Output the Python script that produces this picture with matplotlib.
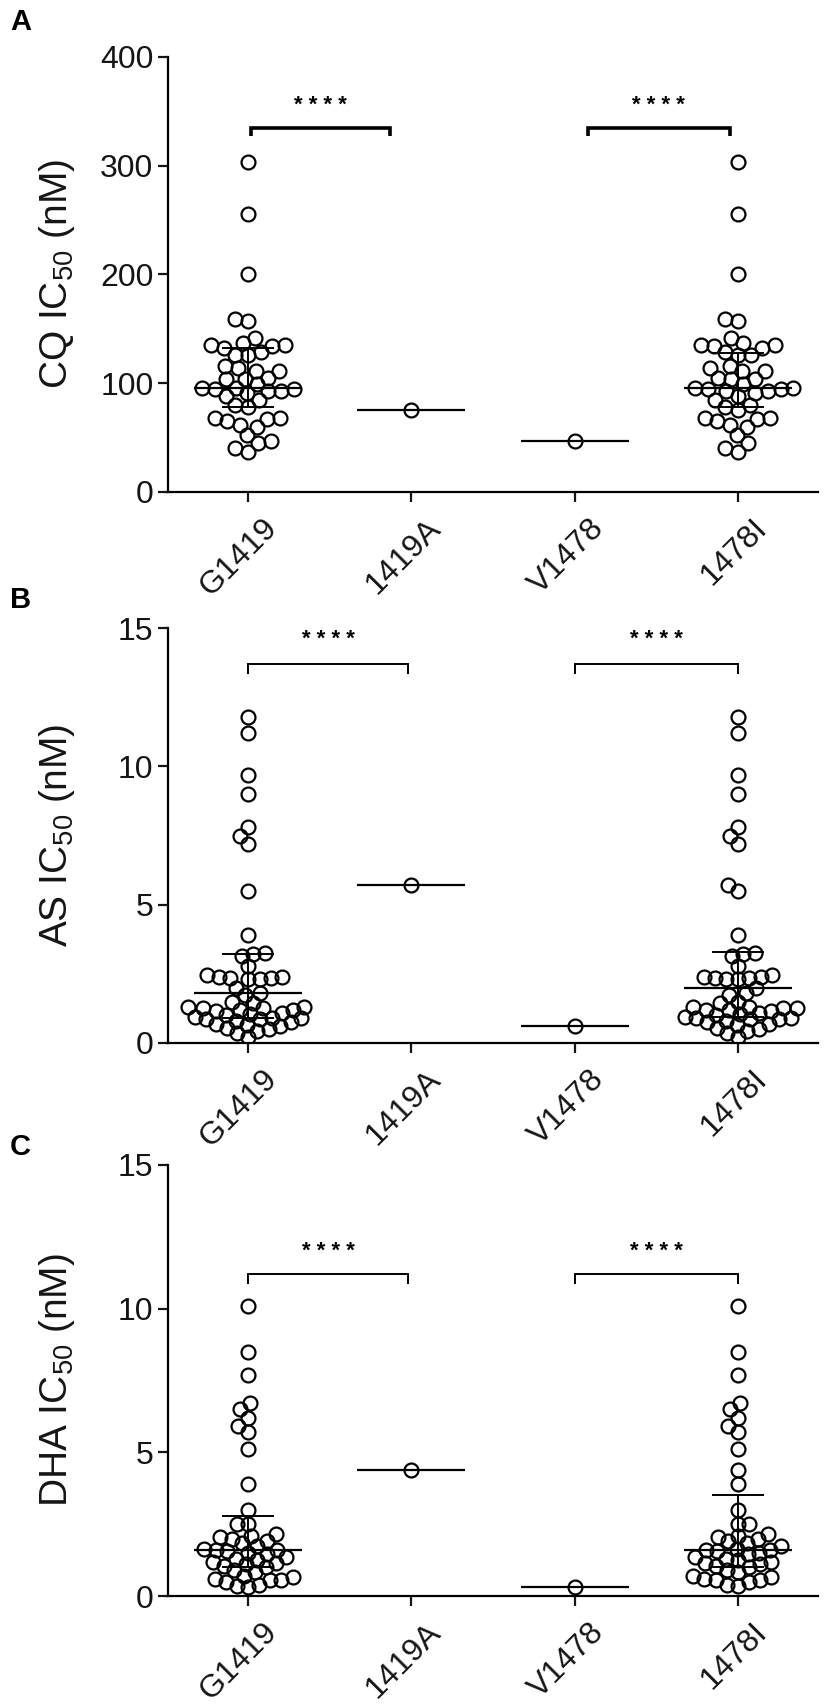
import numpy as np
import matplotlib.pyplot as plt
from matplotlib.transforms import ScaledTranslation

plt.rcParams['font.family'] = ['Liberation Sans', 'DejaVu Sans']

groups = ['G1419', '1419A', 'V1478', '1478I']

# CQ IC50 (nM)
cq_shared = [303, 256, 200, 159, 157, 142, 137, 135, 135, 134, 132, 129, 126, 126,
             116, 114, 111, 111, 105, 104, 104, 99, 96, 96, 95, 95, 93, 93, 91,
             88, 85, 80, 78, 68, 68, 67, 65, 62, 60, 52, 45, 40, 37]
cq_1419a = [75]
cq_v1478 = [47]
cq_median = [96, 75, 47, 96]
cq_q1 = [78, None, None, 78]
cq_q3 = [132, None, None, 128]

# AS IC50 (nM)
as_shared = [11.8, 11.2, 9.7, 9.0, 7.8, 7.5, 7.2, 5.5, 3.9, 3.25, 3.2, 3.15, 2.8,
             2.45, 2.4, 2.35, 2.3, 2.35, 2.4, 2.3, 2.0, 1.8, 1.75, 1.5, 1.45,
             1.3, 1.25, 1.2, 1.3, 1.15, 1.25, 1.2, 1.1, 1.05, 1.0, 0.95,
             0.9, 0.85, 0.9, 0.8, 0.85, 0.75, 0.7, 0.65, 0.55, 0.5, 0.45, 0.35, 0.2]
as_1419a = [5.7]
as_v1478 = [0.6]
as_median = [1.8, 5.7, 0.6, 2.0]
as_q1 = [0.9, None, None, 0.95]
as_q3 = [3.2, None, None, 3.3]

# DHA IC50 (nM)
dha_shared = [10.1, 8.5, 7.7, 6.7, 6.5, 6.2, 5.9, 5.7, 5.1, 3.9, 3.0, 2.5, 2.5,
              2.15, 2.1, 2.05, 2.0, 1.9, 1.85, 1.75, 1.65, 1.6, 1.6, 1.55, 1.5,
              1.45, 1.35, 1.3, 1.25, 1.2, 1.15, 1.1, 1.05, 1.0, 0.9, 0.85,
              0.7, 0.65, 0.6, 0.55, 0.55, 0.5, 0.4, 0.35]
dha_1419a = [4.4]
dha_v1478 = [0.32]
dha_median = [1.6, 4.4, 0.32, 1.6]
dha_q1 = [1.0, None, None, 1.0]
dha_q3 = [2.8, None, None, 3.5]

panels = [
    ('A', 'CQ IC$\\mathregular{_{50}}$ (nM)', [0, 100, 200, 300, 400], 400,
     cq_shared, cq_1419a, cq_v1478, cq_median, cq_q1, cq_q3, 335, 327, 355, 2.6,
     [(0.02, 0.87), (2.08, 2.95)], 13.0),
    ('B', 'AS IC$\\mathregular{_{50}}$ (nM)', [0, 5, 10, 15], 15,
     as_shared, as_1419a, as_v1478, as_median, as_q1, as_q3, 13.7, 13.35, 14.6, 1.4,
     [(0.0, 0.98), (2.0, 3.0)], 11.5),
    ('C', 'DHA IC$\\mathregular{_{50}}$ (nM)', [0, 5, 10, 15], 15,
     dha_shared, dha_1419a, dha_v1478, dha_median, dha_q1, dha_q3, 11.2, 10.85, 12.0, 1.4,
     [(0.0, 0.98), (2.0, 3.0)], 11.5),
]

W, H = 829, 1707
boxes = [(57, 492), (628, 1043), (1165, 1596)]
letter_y = [22, 600, 1147]


def swarm(ax, center, values, diam):
    tr = ax.transData
    ppu = tr.transform((1, 0))[0] - tr.transform((0, 0))[0]
    ys = np.array([tr.transform((0, v))[1] for v in values])
    xs = np.zeros(len(values))
    placed = []
    for i in np.argsort(values):
        y = ys[i]
        near = [(px, py) for px, py in placed if abs(py - y) < diam]
        cands = [0.0]
        for px, py in near:
            w = np.sqrt(diam ** 2 - (py - y) ** 2)
            cands += [px - w, px + w]
        cands.sort(key=abs)
        for c in cands:
            if all((c - px) ** 2 + (y - py) ** 2 >= diam ** 2 - 1e-6 for px, py in near):
                xs[i] = c
                break
        placed.append((xs[i], y))
    return center + xs / ppu


fig = plt.figure(figsize=(W / 100, H / 100), dpi=100)
shift = ScaledTranslation(0.14, 0, fig.dpi_scale_trans)

for k, (letter, ylabel, yticks, ytop, shared, a19, v78, med, q1, q3,
        by, bt, sy, blw, spans, diam) in enumerate(panels):
    top, bot = boxes[k]
    ax = fig.add_axes([168 / W, 1 - bot / H, (818 - 168) / W, (bot - top) / H])
    ax.set_xlim(-0.49, 3.49)
    ax.set_ylim(0, ytop)
    for s in ['top', 'right']:
        ax.spines[s].set_visible(False)
    for s in ['left', 'bottom']:
        ax.spines[s].set_linewidth(1.6)
    ax.set_yticks(yticks)
    ax.set_xticks(range(4))
    ax.tick_params(axis='both', length=7, width=1.6, labelsize=23, colors='#151515')
    ax.tick_params(axis='x', pad=8)
    ax.set_xticklabels(groups, rotation=45, ha='right', rotation_mode='anchor')
    for lab in ax.get_xticklabels():
        lab.set_transform(lab.get_transform() + shift)
    ax.set_ylabel(ylabel, fontsize=28, color='#151515')
    ax.yaxis.set_label_coords(-0.14, 0.5)

    data = [shared + v78, a19, v78, shared + a19]
    for i, vals in enumerate(data):
        xs = swarm(ax, i, vals, diam)
        ax.plot(xs, vals, 'o', ms=10, mfc='none', mec='black', mew=1.6, zorder=2)
        ax.hlines(med[i], i - 0.33, i + 0.33, color='black', lw=1.6, zorder=3)
        if q1[i] is not None:
            ax.vlines(i, q1[i], q3[i], color='black', lw=1.4, zorder=3)
            ax.hlines([q1[i], q3[i]], i - 0.16, i + 0.16, color='black', lw=1.4, zorder=3)

    for x0, x1 in spans:
        ax.plot([x0, x0, x1, x1], [bt, by, by, bt], color='black', lw=blw,
                solid_capstyle='butt', solid_joinstyle='miter', clip_on=False)
        ax.text((x0 + x1) / 2, sy, '* * * *', ha='center', va='center',
                fontsize=16, fontweight='bold')

    fig.text(10 / W, 1 - letter_y[k] / H, letter, fontsize=21, fontweight='bold',
             ha='left', va='center')

fig.savefig('out.png', dpi=100)
